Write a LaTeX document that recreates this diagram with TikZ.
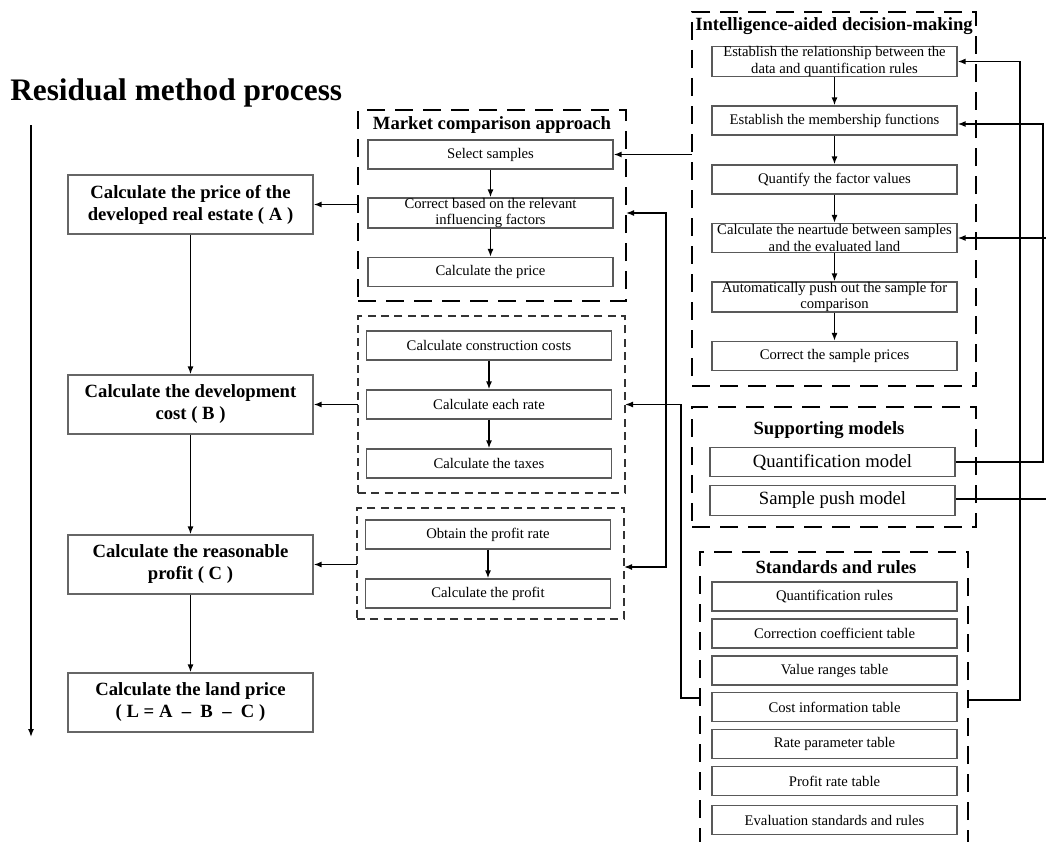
\documentclass[tikz,border=0pt]{standalone}
\usepackage{fontspec}
\setmainfont{Liberation Serif}
\usetikzlibrary{arrows.meta}
\begin{document}
\begin{tikzpicture}[x=0.75pt,y=-0.75pt,
  arr/.style={-{Latex[length=6pt,width=4.5pt]}, line width=1.1pt},
  arrboth/.style={{Latex[length=6pt,width=4.5pt]}-{Latex[length=6pt,width=4.5pt]}, line width=1.1pt},
  plain/.style={line width=1.1pt},
  sbox/.style={draw=black!65, line width=0.9pt, minimum width=183.75pt, minimum height=21.75pt, inner sep=0pt, align=center, font=\fontsize{11}{12.5}\selectfont},
  bigbox/.style={draw=black!65, line width=0.9pt, minimum width=183.75pt, minimum height=22pt, inner sep=0pt, align=center, font=\fontsize{14}{16}\selectfont},
  mbox/.style={draw=black!60, line width=0.9pt, minimum width=183.75pt, minimum height=44.25pt, inner sep=0pt, align=center, font=\bfseries\fontsize{14}{16.5}\selectfont},
  tframe/.style={draw, line width=2.2pt, dash pattern=on 13.5pt off 7.5pt, inner sep=0pt, outer sep=0pt},
  dframe/.style={draw=black!80, line width=1.1pt, dash pattern=on 6pt off 4pt, inner sep=0pt, outer sep=0pt},
  gtitle/.style={font=\bfseries\fontsize{14}{16}\selectfont, inner sep=0pt}
]
\useasboundingbox (0,0) rectangle (1046,842);
\fill[white] (0,0) rectangle (1046,842);

% title
\node[anchor=base west, inner sep=0pt, font=\bfseries\fontsize{23.5}{26}\selectfont] (title) at (10,100) {Residual method process};
\coordinate (ltop) at (31,125);
\coordinate (lbot) at (31,737);
\draw[arr] (ltop) -- (lbot);

% main column
\node[mbox] (A) at (190.5,204.5) {Calculate the price of the\\developed real estate ( A )};
\node[mbox] (B) at (190.5,404.5) {Calculate the development\\cost ( B )};
\node[mbox] (C) at (190.5,564.5) {Calculate the reasonable\\profit ( C )};
\node[mbox] (L) at (190.5,702.5) {Calculate the land price\\( L = A ~–~ B ~–~ C )};
\draw[arr] (A.south) -- (B.north);
\draw[arr] (B.south) -- (C.north);
\draw[arr] (C.south) -- (L.north);

% market comparison
\node[tframe, minimum width=201pt, minimum height=143.25pt] (mktf) at (492,205.5) {};
\node[gtitle] (mktt) at (492,125) {Market comparison approach};
\node[sbox] (sel) at (490.5,154.5) {Select samples};
\node[sbox] (corr) at (490.5,213) {Correct based on the relevant\\influencing factors};
\node[sbox] (price) at (490.5,272) {Calculate the price};
\draw[arr] (sel.south) -- (corr.north);
\draw[arr] (corr.south) -- (price.north);

% cost group
\node[dframe, minimum width=200.25pt, minimum height=132.75pt] (f2) at (491.5,404.5) {};
\node[sbox] (cons) at (489,345.5) {Calculate construction costs};
\node[sbox] (rate) at (489,404.5) {Calculate each rate};
\node[sbox] (tax) at (489,463.5) {Calculate the taxes};
\draw[arr] (cons.south) -- (rate.north);
\draw[arr] (rate.south) -- (tax.north);

% profit group
\node[dframe, minimum width=200.25pt, minimum height=83.25pt] (f3) at (490.5,563.5) {};
\node[sbox] (obt) at (488,534.5) {Obtain the profit rate};
\node[sbox] (prof) at (488,593.5) {Calculate the profit};
\draw[arr] (obt.south) -- (prof.north);

\draw[arr] (mktf.west |- A) -- (A.east);
\draw[arr] (f2.west |- B) -- (B.east);
\draw[arr] (f3.west |- C) -- (C.east);

% intelligence-aided
\node[tframe, minimum width=213pt, minimum height=280.5pt] (intf) at (834,199) {};
\node[gtitle] (intt) at (834,26) {Intelligence-aided decision-making};
\node[sbox] (rel) at (834.5,61.5) {Establish the relationship between the\\data and quantification rules};
\node[sbox] (mem) at (834.5,120.5) {Establish the membership functions};
\node[sbox] (quant) at (834.5,179.5) {Quantify the factor values};
\node[sbox] (near) at (834.5,238) {Calculate the neartude between samples\\and the evaluated land};
\node[sbox] (push) at (834.5,297) {Automatically push out the sample for\\comparison};
\node[sbox] (corrp) at (834.5,356) {Correct the sample prices};
\draw[arr] (rel.south) -- (mem.north);
\draw[arr] (mem.south) -- (quant.north);
\draw[arr] (quant.south) -- (near.north);
\draw[arr] (near.south) -- (push.north);
\draw[arr] (push.south) -- (corrp.north);
\draw[arr] (intf.west |- sel) -- (sel.east);

% supporting models
\node[tframe, minimum width=213pt, minimum height=90pt] (supf) at (834,467) {};
\node[gtitle] (supt) at (829,430) {Supporting models};
\node[bigbox] (qm) at (832.5,462) {Quantification model};
\node[bigbox] (spm) at (832.5,500.5) {Sample push model};

% standards and rules
\node[tframe, minimum width=201pt, minimum height=231pt] (stf) at (834,706) {};
\node[gtitle] (stt) at (836,567) {Standards and rules};
\node[sbox] (r1) at (834.5,596.5) {Quantification rules};
\node[sbox] (r2) at (834.5,633.5) {Correction coefficient table};
\node[sbox] (r3) at (834.5,670.5) {Value ranges table};
\node[sbox] (r4) at (834.5,707) {Cost information table};
\node[sbox] (r5) at (834.5,744) {Rate parameter table};
\node[sbox] (r6) at (834.5,781) {Profit rate table};
\node[sbox] (r7) at (834.5,820) {Evaluation standards and rules};

% connectors on the middle
\coordinate (y698) at (0,698);
\coordinate (c681) at (681,698);
\draw[arr] (stf.west |- y698) -- (c681) |- (f2.east |- rate);
\coordinate (v1) at (666,213);
\coordinate (v2) at (666,567);
\draw[arrboth] (mktf.east |- corr) -- (v1) -- (v2) -- (f3.east |- v2);

% connectors on the right
\coordinate (y700) at (0,700);
\coordinate (c1020) at (1020,700);
\draw[arr] (stf.east |- y700) -- (c1020) |- (rel.east);
\coordinate (y124) at (0,124);
\coordinate (c1043) at (1043,462);
\draw[arr] (qm.east) -- (c1043) |- (mem.east |- y124);
\coordinate (c1049) at (1049,499);
\draw[arr] (spm.east |- c1049) -- (c1049) |- (near.east);
\end{tikzpicture}
\end{document}
